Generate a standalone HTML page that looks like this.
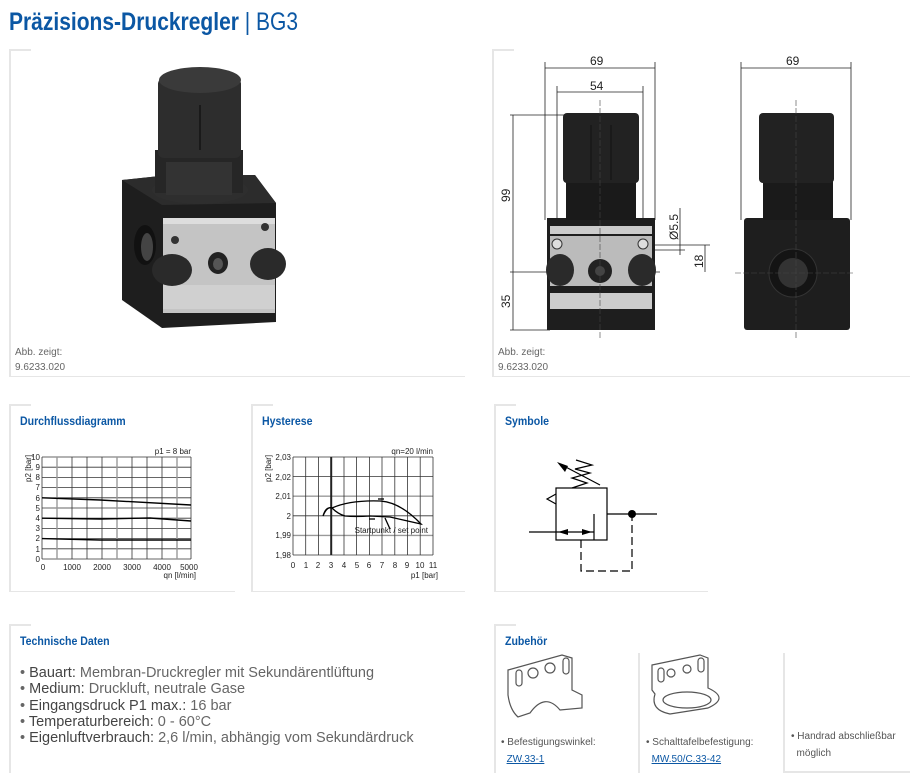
<!DOCTYPE html>
<html><head><meta charset="utf-8">
<style>
body{margin:0;width:910px;height:773px;background:#fff;position:relative;font-family:"Liberation Sans",sans-serif;overflow:hidden}
.a{position:absolute}
.h{position:absolute;color:#0b57a4;font-weight:bold;font-size:12px;transform:scaleX(0.88);transform-origin:0 0;white-space:nowrap}
.g{position:absolute;background:#e6e6e6}
.s{font-size:10px;color:#666;line-height:15px}
ul{margin:0;padding:0;list-style:none}
</style></head><body>
<div class="a" style="left:9px;top:8px;font-size:25px;color:#0b57a4;white-space:nowrap;transform:scaleX(0.84);transform-origin:0 0"><b>Präzisions-Druckregler</b> <span style="font-weight:normal">| BG3</span></div>

<!-- panel borders -->
<div class="g" style="left:9px;top:49px;width:2px;height:328px"></div><div class="g" style="left:9px;top:49px;width:22px;height:2px"></div><div class="g" style="left:9px;top:376px;width:456px;height:1px"></div>
<div class="g" style="left:492px;top:49px;width:2px;height:328px"></div><div class="g" style="left:492px;top:49px;width:22px;height:2px"></div><div class="g" style="left:492px;top:376px;width:418px;height:1px"></div>
<div class="g" style="left:9px;top:404px;width:2px;height:188px"></div><div class="g" style="left:9px;top:404px;width:22px;height:2px"></div><div class="g" style="left:9px;top:591px;width:226px;height:1px"></div>
<div class="g" style="left:251px;top:404px;width:2px;height:188px"></div><div class="g" style="left:251px;top:404px;width:22px;height:2px"></div><div class="g" style="left:251px;top:591px;width:214px;height:1px"></div>
<div class="g" style="left:494px;top:404px;width:2px;height:188px"></div><div class="g" style="left:494px;top:404px;width:22px;height:2px"></div><div class="g" style="left:494px;top:591px;width:214px;height:1px"></div>
<div class="g" style="left:9px;top:624px;width:2px;height:149px"></div><div class="g" style="left:9px;top:624px;width:22px;height:2px"></div>
<div class="g" style="left:494px;top:624px;width:2px;height:149px"></div><div class="g" style="left:494px;top:624px;width:22px;height:2px"></div>
<div class="g" style="left:638px;top:653px;width:2px;height:120px"></div>
<div class="g" style="left:783px;top:653px;width:2px;height:120px"></div><div class="g" style="left:783px;top:771px;width:127px;height:2px"></div>

<!-- 3D device -->
<svg class="a" style="left:0;top:0" width="480" height="380">
<polygon points="122,180 160,176 255,175 276,203 276,322 162,328 122,300" fill="#1e1e1e"/>
<polygon points="122,180 160,176 255,175 276,203 162,205" fill="#2c2c2c"/>
<rect x="163" y="218" width="112" height="95" fill="#c4c4c4"/>
<rect x="163" y="218" width="112" height="6" fill="#ddd"/>
<rect x="163" y="285" width="112" height="24" fill="#d0d0d0"/>
<ellipse cx="172" cy="270" rx="20" ry="16" fill="#2a2a2a"/>
<ellipse cx="268" cy="264" rx="18" ry="16" fill="#2a2a2a"/>
<ellipse cx="218" cy="263" rx="10" ry="11" fill="#222"/><ellipse cx="218" cy="264" rx="5" ry="6" fill="#555"/>
<circle cx="175" cy="240" r="4" fill="#333"/><circle cx="265" cy="227" r="4" fill="#333"/>
<ellipse cx="145" cy="245" rx="11" ry="20" fill="#111"/><ellipse cx="147" cy="247" rx="6" ry="14" fill="#444"/>
<ellipse cx="200" cy="190" rx="48" ry="14" fill="#2e2e2e"/>
<rect x="155" y="150" width="88" height="43" fill="#262626"/>
<rect x="166" y="162" width="66" height="33" fill="#333"/>
<rect x="158" y="78" width="83" height="80" rx="6" fill="#2d2d2d"/>
<ellipse cx="200" cy="80" rx="41" ry="13" fill="#3a3a3a"/>
<line x1="200" y1="105" x2="200" y2="150" stroke="#1a1a1a" stroke-width="2"/>
</svg>
<div class="a s" style="left:15px;top:345px">Abb. zeigt:<br>9.6233.020</div>

<!-- technical drawings -->
<svg class="a" style="left:480px;top:40px" width="430" height="300" font-family="Liberation Sans,sans-serif" font-size="12" fill="#222">
<g stroke="#222" stroke-width="0.8" fill="none">
<line x1="65" y1="28" x2="175" y2="28"/><line x1="65" y1="22" x2="65" y2="180"/><line x1="175" y1="22" x2="175" y2="180"/>
<line x1="77" y1="52" x2="163" y2="52"/><line x1="77" y1="46" x2="77" y2="180"/><line x1="163" y1="46" x2="163" y2="180"/>
<line x1="261" y1="28" x2="371" y2="28"/><line x1="261" y1="22" x2="261" y2="180"/><line x1="371" y1="22" x2="371" y2="180"/>
<line x1="33" y1="75" x2="33" y2="290"/><line x1="30" y1="75" x2="90" y2="75"/><line x1="30" y1="232" x2="180" y2="232"/><line x1="30" y1="290" x2="70" y2="290"/>
<line x1="200" y1="168" x2="200" y2="215"/><line x1="225" y1="205" x2="225" y2="232"/><line x1="165" y1="205" x2="230" y2="205"/><line x1="165" y1="210" x2="205" y2="210"/>
</g>
<rect x="67" y="178" width="108" height="112" fill="#1e1e1e"/>
<rect x="70" y="186" width="102" height="8" fill="#ccc"/>
<rect x="70" y="196" width="102" height="50" fill="#bbb"/>
<ellipse cx="80" cy="230" rx="14" ry="16" fill="#2a2a2a"/><ellipse cx="162" cy="230" rx="14" ry="16" fill="#2a2a2a"/>
<circle cx="120" cy="231" r="12" fill="#222"/><circle cx="120" cy="231" r="5" fill="#444"/>
<circle cx="77" cy="204" r="5" fill="#ddd" stroke="#333"/><circle cx="163" cy="204" r="5" fill="#ddd" stroke="#333"/>
<rect x="70" y="253" width="102" height="16" fill="#ccc"/>
<rect x="86" y="140" width="70" height="40" fill="#1a1a1a"/>
<rect x="83" y="73" width="76" height="70" rx="4" fill="#222"/>
<line x1="111" y1="85" x2="111" y2="140" stroke="#111"/><line x1="131" y1="85" x2="131" y2="140" stroke="#111"/>
<rect x="264" y="178" width="106" height="112" rx="3" fill="#1e1e1e"/>
<rect x="283" y="140" width="70" height="40" fill="#1a1a1a"/>
<rect x="279" y="73" width="75" height="70" rx="4" fill="#222"/>
<circle cx="313" cy="233" r="24" fill="#141414" stroke="#333"/><circle cx="313" cy="233" r="15" fill="#333"/>
<g stroke="#444" stroke-width="0.6" stroke-dasharray="6,2"><line x1="120" y1="60" x2="120" y2="300"/><line x1="316" y1="60" x2="316" y2="300"/><line x1="255" y1="233" x2="375" y2="233"/></g>
<text x="110" y="25">69</text><text x="110" y="50">54</text><text x="306" y="25">69</text>
<text transform="translate(30,162) rotate(-90)">99</text><text transform="translate(30,268) rotate(-90)">35</text>
<text transform="translate(198,200) rotate(-90)">Ø5.5</text><text transform="translate(223,228) rotate(-90)">18</text>
</svg>
<div class="a s" style="left:498px;top:345px">Abb. zeigt:<br>9.6233.020</div>

<!-- headings -->
<div class="h" style="left:20px;top:414px">Durchflussdiagramm</div>
<div class="h" style="left:262px;top:414px">Hysterese</div>
<div class="h" style="left:505px;top:414px">Symbole</div>
<div class="h" style="left:20px;top:634px">Technische Daten</div>
<div class="h" style="left:505px;top:634px">Zubehör</div>

<!-- flow chart -->
<svg class="a" style="left:0;top:440px" width="240" height="145" font-family="Liberation Sans,sans-serif" font-size="8" fill="#222">
<g stroke="#333" stroke-width="0.8">
<line x1="42" y1="17" x2="191" y2="17"/><line x1="42" y1="27.2" x2="191" y2="27.2"/><line x1="42" y1="37.4" x2="191" y2="37.4"/><line x1="42" y1="47.6" x2="191" y2="47.6"/><line x1="42" y1="57.8" x2="191" y2="57.8"/><line x1="42" y1="68" x2="191" y2="68"/><line x1="42" y1="78.2" x2="191" y2="78.2"/><line x1="42" y1="88.4" x2="191" y2="88.4"/><line x1="42" y1="98.6" x2="191" y2="98.6"/><line x1="42" y1="108.8" x2="191" y2="108.8"/><line x1="42" y1="119" x2="191" y2="119"/>
<line x1="42" y1="17" x2="42" y2="119"/><line x1="57" y1="17" x2="57" y2="119" stroke="#999" stroke-width="1.4"/><line x1="72" y1="17" x2="72" y2="119"/><line x1="87" y1="17" x2="87" y2="119"/><line x1="102" y1="17" x2="102" y2="119"/><line x1="117" y1="17" x2="117" y2="119" stroke="#999" stroke-width="1.4"/><line x1="132" y1="17" x2="132" y2="119"/><line x1="147" y1="17" x2="147" y2="119"/><line x1="162" y1="17" x2="162" y2="119"/><line x1="177" y1="17" x2="177" y2="119" stroke="#999" stroke-width="1.4"/><line x1="191" y1="17" x2="191" y2="119"/>
</g>
<g stroke="#000" stroke-width="1.4" fill="none">
<path d="M42,57.8 L100,60 L191,65"/><path d="M42,78.2 L100,79 L150,78 L191,81"/><path d="M42,98.6 L100,100 L191,100"/>
</g>
<g text-anchor="end"><text x="40" y="20">10</text><text x="40" y="30">9</text><text x="40" y="40">8</text><text x="40" y="50">7</text><text x="40" y="61">6</text><text x="40" y="71">5</text><text x="40" y="81">4</text><text x="40" y="91">3</text><text x="40" y="101">2</text><text x="40" y="112">1</text><text x="40" y="122">0</text>
<text x="191" y="14">p1 = 8 bar</text><text x="196" y="138">qn [l/min]</text></g>
<g text-anchor="middle"><text x="43" y="130">0</text><text x="72" y="130">1000</text><text x="102" y="130">2000</text><text x="132" y="130">3000</text><text x="162" y="130">4000</text><text x="189" y="130">5000</text></g>
<text transform="translate(31,42) rotate(-90)">p2 [bar]</text>
</svg>

<!-- hysteresis -->
<svg class="a" style="left:250px;top:440px" width="215" height="145" font-family="Liberation Sans,sans-serif" font-size="8" fill="#222">
<g stroke="#333" stroke-width="0.8">
<line x1="43" y1="17" x2="183" y2="17"/><line x1="43" y1="36.6" x2="183" y2="36.6"/><line x1="43" y1="56.2" x2="183" y2="56.2" stroke="#999" stroke-width="1.4"/><line x1="43" y1="75.8" x2="183" y2="75.8"/><line x1="43" y1="95.4" x2="183" y2="95.4" stroke="#999" stroke-width="1.4"/><line x1="43" y1="115" x2="183" y2="115"/>
<line x1="43" y1="17" x2="43" y2="115"/><line x1="55.7" y1="17" x2="55.7" y2="115"/><line x1="68.5" y1="17" x2="68.5" y2="115"/><line x1="81.2" y1="17" x2="81.2" y2="115" stroke="#222" stroke-width="2"/><line x1="94" y1="17" x2="94" y2="115"/><line x1="106.6" y1="17" x2="106.6" y2="115"/><line x1="119.4" y1="17" x2="119.4" y2="115"/><line x1="132" y1="17" x2="132" y2="115"/><line x1="144.8" y1="17" x2="144.8" y2="115"/><line x1="157.5" y1="17" x2="157.5" y2="115"/><line x1="170.2" y1="17" x2="170.2" y2="115"/><line x1="183" y1="17" x2="183" y2="115"/>
</g>
<g stroke="#000" stroke-width="1.3" fill="none">
<path d="M73,76 Q76,66 82,68 Q100,60 130,61 Q150,62 171,84 L140,77 L120,76 Q105,77 95,76 Q88,74 82,68 Q77,66 73,76"/>
<path d="M128,59 L134,59"/><path d="M125,79 L119,79"/><path d="M135,78 L140,89"/>
</g>
<g text-anchor="end"><text x="41" y="20">2,03</text><text x="41" y="40">2,02</text><text x="41" y="59">2,01</text><text x="41" y="79">2</text><text x="41" y="98">1,99</text><text x="41" y="118">1,98</text>
<text x="183" y="14">qn=20 l/min</text><text x="188" y="138">p1 [bar]</text><text x="178" y="93">Startpunkt / set point</text></g>
<g text-anchor="middle"><text x="43" y="128">0</text><text x="56" y="128">1</text><text x="68" y="128">2</text><text x="81" y="128">3</text><text x="94" y="128">4</text><text x="107" y="128">5</text><text x="119" y="128">6</text><text x="132" y="128">7</text><text x="145" y="128">8</text><text x="157" y="128">9</text><text x="170" y="128">10</text><text x="183" y="128">11</text></g>
<text transform="translate(21,42) rotate(-90)">p2 [bar]</text>
</svg>

<!-- symbol -->
<svg class="a" style="left:480px;top:440px" width="230" height="150">
<g stroke="#000" stroke-width="1.2" fill="none">
<rect x="76" y="48" width="51" height="52"/>
<path d="M76,54 L67,59 L76,64"/>
<path d="M92,48 L107,43 L92,38 L110,33 L95,29 L112,25 L96,20"/>
<path d="M120,45 L80,24"/>
<line x1="49" y1="92" x2="114" y2="92"/><line x1="114" y1="74" x2="114" y2="100"/>
<line x1="127" y1="74" x2="177" y2="74"/>
<path d="M101,100 V131 H152 V74" stroke-dasharray="8,4"/>
</g>
<polygon points="77,22 88,26 85,32" fill="#000"/>
<polygon points="78,92 88,89 88,95" fill="#000"/><polygon points="112,92 102,89 102,95" fill="#000"/>
<circle cx="152" cy="74" r="4" fill="#000"/>
</svg>

<!-- tech data -->
<ul class="a" style="left:20px;top:665px;font-size:14.5px;line-height:16.3px;color:#666;white-space:nowrap">
<li>• <span style="color:#444">Bauart:</span> Membran-Druckregler mit Sekundärentlüftung</li>
<li>• <span style="color:#444">Medium:</span> Druckluft, neutrale Gase</li>
<li>• <span style="color:#444">Eingangsdruck P1 max.:</span> 16 bar</li>
<li>• <span style="color:#444">Temperaturbereich:</span> 0 - 60°C</li>
<li>• <span style="color:#444">Eigenluftverbrauch:</span> 2,6 l/min, abhängig vom Sekundärdruck</li>
</ul>

<!-- accessories -->
<svg class="a" style="left:490px;top:650px" width="260" height="75">
<g stroke="#555" stroke-width="1.2" fill="#fff">
<path d="M18,20 L72,5 L82,8 L82,40 L92,45 L92,58 L70,60 Q55,42 40,63 L28,67 Q20,60 18,45 Z"/>
<rect x="26" y="20" width="6" height="16" rx="3"/><circle cx="43" cy="23" r="5"/><circle cx="60" cy="18" r="5"/><rect x="73" y="8" width="6" height="16" rx="3"/>
<path d="M162,15 L210,5 L218,8 L218,38 Q240,48 218,58 L180,64 Q160,60 165,44 L162,40 Z"/>
<ellipse cx="197" cy="50" rx="24" ry="8"/>
<rect x="168" y="18" width="6" height="14" rx="3"/><circle cx="181" cy="23" r="4"/><circle cx="197" cy="19" r="4"/><rect x="208" y="8" width="6" height="14" rx="3"/>
</g>
</svg>
<div class="a" style="left:501px;top:734px;font-size:10px;line-height:17px;color:#555">• Befestigungswinkel:<br>&nbsp;&nbsp;<span style="color:#0b57a4;text-decoration:underline">ZW.33-1</span></div>
<div class="a" style="left:646px;top:734px;font-size:10px;line-height:17px;color:#555">• Schalttafelbefestigung:<br>&nbsp;&nbsp;<span style="color:#0b57a4;text-decoration:underline">MW.50/C.33-42</span></div>
<div class="a" style="left:791px;top:728px;font-size:10px;line-height:17px;color:#555">• Handrad abschließbar<br>&nbsp;&nbsp;möglich</div>
</body></html>
